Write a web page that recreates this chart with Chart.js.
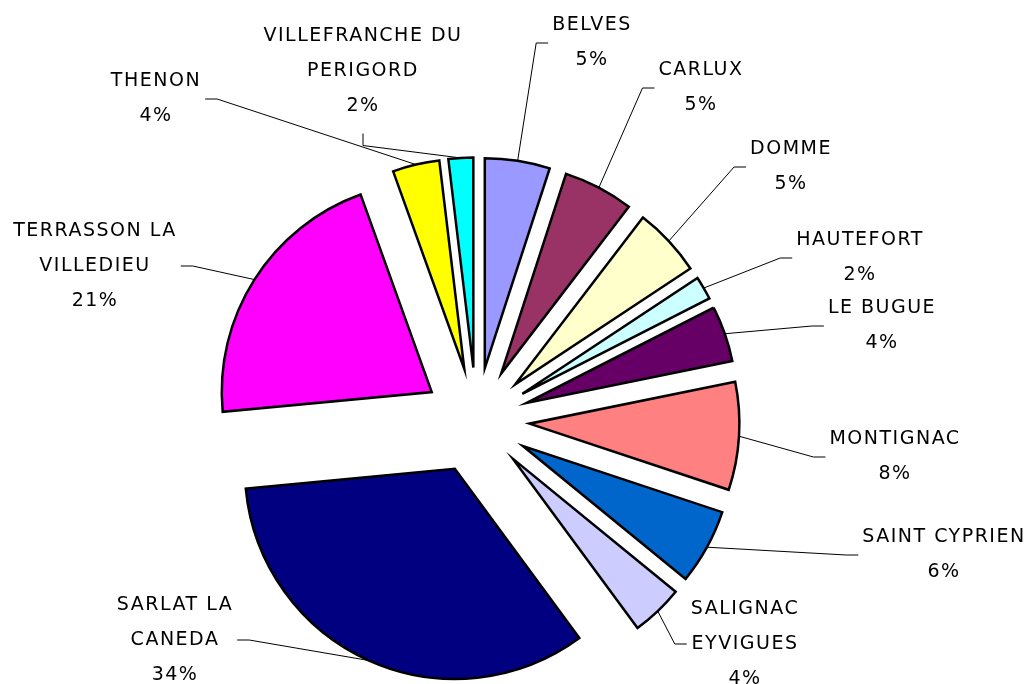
<!DOCTYPE html>
<html>
<head>
<meta charset="utf-8">
<title>Répartition par canton</title>
<script src="https://cdn.jsdelivr.net/npm/chart.js@4.4.0/dist/chart.umd.min.js"></script>
<style>
    html, body { margin: 0; padding: 0; background: #fff; }
    canvas { display: block; }
</style>
</head>
<body>
<canvas id="pie" width="1033" height="684"></canvas>
<script>
// Data: cantons (one entry per line of the label) and their share in %
const cantons = [
    ['BELVES'],
    ['CARLUX'],
    ['DOMME'],
    ['HAUTEFORT'],
    ['LE BUGUE'],
    ['MONTIGNAC'],
    ['SAINT CYPRIEN'],
    ['SALIGNAC', 'EYVIGUES'],
    ['SARLAT LA', 'CANEDA'],
    ['TERRASSON LA', 'VILLEDIEU'],
    ['THENON'],
    ['VILLEFRANCHE DU', 'PERIGORD']
];
const shares = [5.0, 5.4, 5.3, 1.8, 4.3, 8.3, 5.8, 4.0, 33.6, 21.0, 3.6, 1.9];

const sliceColors = [
    '#9999FF', '#993366', '#FFFFCC', '#CCFFFF', '#660066', '#FF8080',
    '#0066CC', '#CCCCFF', '#000080', '#FF00FF', '#FFFF00', '#00FFFF'
];

// Layout of the labels (centre of each text block) - placed by hand like the original
const labelCenters = [
    [592, 43], [701, 88], [791, 167], [860, 258], [882, 326], [895, 457],
    [944, 555], [745, 644], [175, 640], [95, 266], [156, 99], [363, 71]
];
const leaderFromBottom = [11];

const EXPLODE = 53;
const LINE_H = 35;
const FONT = '19px "DejaVu Sans"';

// every slice is pulled out of the centre by the same distance
const baseArcDraw = Chart.ArcElement.prototype.draw;
Chart.ArcElement.prototype.draw = function (ctx) {
    const mid = (this.startAngle + this.endAngle) / 2;
    ctx.save();
    ctx.translate(Math.cos(mid) * EXPLODE, Math.sin(mid) * EXPLODE);
    baseArcDraw.call(this, ctx);
    ctx.restore();
};

const pieLabels = {
    id: 'pieLabels',
    afterDatasetsDraw(chart) {
        const ctx = chart.ctx;
        const meta = chart.getDatasetMeta(0);
        const total = shares.reduce((a, b) => a + b, 0);

        ctx.save();
        ctx.font = FONT;
        ctx.letterSpacing = '1.5px';
        ctx.fillStyle = '#000';
        ctx.strokeStyle = '#000';
        ctx.lineWidth = 1;
        ctx.textAlign = 'center';
        ctx.textBaseline = 'middle';

        meta.data.forEach((arc, i) => {
            const lines = cantons[i].concat(Math.round(shares[i] / total * 100) + '%');
            const [cx, cy] = labelCenters[i];
            const top = cy - (lines.length - 1) * LINE_H / 2;
            lines.forEach((t, k) => ctx.fillText(t, cx, top + k * LINE_H));

            // leader line to the middle of the slice's outer edge
            const mid = (arc.startAngle + arc.endAngle) / 2;
            const r = arc.outerRadius + EXPLODE;
            const ex = arc.x + Math.cos(mid) * r;
            const ey = arc.y + Math.sin(mid) * r;
            const w = Math.max(...lines.map(t => ctx.measureText(t).width));

            let sx, sy, kx, ky;
            if (leaderFromBottom.includes(i)) {
                sx = cx;
                sy = cy + lines.length * LINE_H / 2 + 10;
                kx = sx;
                ky = sy + 12;
            } else if (cx > arc.x) {
                sx = cx - w / 2 - 4;
                sy = cy;
                kx = sx - 12;
                ky = sy;
            } else {
                sx = cx + w / 2 + 4;
                sy = cy;
                kx = sx + 12;
                ky = sy;
            }
            ctx.beginPath();
            ctx.moveTo(sx, sy);
            ctx.lineTo(kx, ky);
            ctx.lineTo(ex, ey);
            ctx.stroke();
        });
        ctx.restore();
    }
};

new Chart(document.getElementById('pie'), {
    type: 'pie',
    data: {
        labels: cantons,
        datasets: [{
            data: shares,
            backgroundColor: sliceColors,
            borderColor: '#000',
            borderWidth: 2.5,
            borderJoinStyle: 'miter'
        }]
    },
    options: {
        responsive: false,
        animation: false,
        radius: 210,
        layout: {
            padding: { left: 0, right: 80, top: 157, bottom: 0 }
        },
        plugins: {
            legend: { display: false },
            tooltip: { enabled: false }
        }
    },
    plugins: [pieLabels]
});
</script>
</body>
</html>
